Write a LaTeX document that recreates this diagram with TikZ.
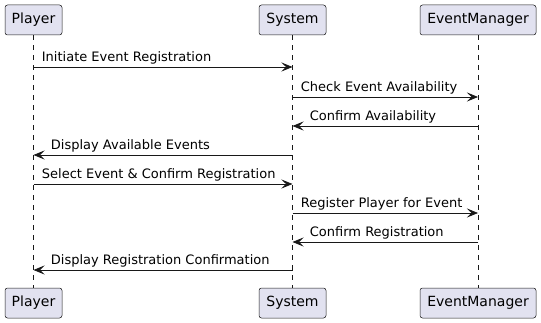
\documentclass[tikz,border=0pt]{standalone}
\usepackage{fontspec}
\setmainfont{DejaVu Sans}
\usetikzlibrary{arrows.meta}

\definecolor{partfill}{HTML}{E2E2F0}
\definecolor{ink}{HTML}{181818}

\tikzset{
  party/.style={draw=ink, fill=partfill, rounded corners=2.5pt, line width=0.5pt,
    minimum height=30pt, inner xsep=6pt, font=\fontsize{14}{16}\selectfont},
  life/.style={draw=ink, line width=0.5pt, dash pattern=on 5pt off 5pt},
  msg/.style={draw=ink, line width=0.8pt, -{Stealth[length=11pt, width=9pt, inset=4.5pt]}},
  lbl/.style={inner sep=0pt, anchor=base west, font=\fontsize{13}{15}\selectfont}
}

\begin{document}
\begin{tikzpicture}[x=1pt, y=-1pt]
\useasboundingbox (0,0) rectangle (541,323);

% participants, top and bottom
\node[party, minimum width=57pt] (pl) at (33.5,20) {Player};
\node[party, minimum width=67pt] (sy) at (292.5,20) {System};
\node[party, minimum width=116pt] (em) at (478,20) {EventManager};
\node[party, minimum width=57pt] (plb) at (33.5,303) {Player};
\node[party, minimum width=67pt] (syb) at (292.5,303) {System};
\node[party, minimum width=116pt] (emb) at (478,303) {EventManager};

% lifelines
\draw[life] (pl) -- (plb);
\draw[life] (sy) -- (syb);
\draw[life] (em) -- (emb);

% points on the lifelines, one row per message
\foreach \y [count=\i] in {67,97,126,155,184,213,242,270} {
  \coordinate (p\i) at (33.5,\y);
  \coordinate (s\i) at (292.5,\y);
  \coordinate (e\i) at (478,\y);
}

\draw[msg] (p1) -- (s1) node[lbl, pos=0, xshift=8pt, yshift=5pt] {Initiate Event Registration};
\draw[msg] (s2) -- (e2) node[lbl, pos=0, xshift=8pt, yshift=5pt] {Check Event Availability};
\draw[msg] (e3) -- (s3) node[lbl, pos=1, xshift=17pt, yshift=5pt] {Confirm Availability};
\draw[msg] (s4) -- (p4) node[lbl, pos=1, xshift=17pt, yshift=5pt] {Display Available Events};
\draw[msg] (p5) -- (s5) node[lbl, pos=0, xshift=8pt, yshift=5pt] {Select Event \& Confirm Registration};
\draw[msg] (s6) -- (e6) node[lbl, pos=0, xshift=8pt, yshift=5pt] {Register Player for Event};
\draw[msg] (e7) -- (s7) node[lbl, pos=1, xshift=17pt, yshift=5pt] {Confirm Registration};
\draw[msg] (s8) -- (p8) node[lbl, pos=1, xshift=17pt, yshift=5pt] {Display Registration Confirmation};
\end{tikzpicture}
\end{document}
